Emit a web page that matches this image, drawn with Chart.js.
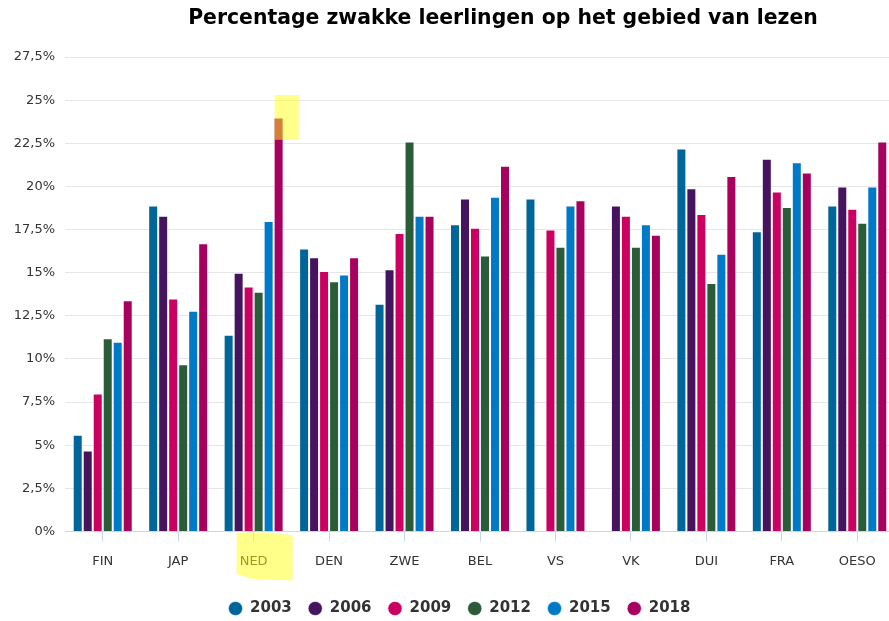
<!DOCTYPE html>
<html lang="nl">
<head>
<meta charset="UTF-8">
<title>Percentage zwakke leerlingen</title>
<script src="https://cdn.jsdelivr.net/npm/chart.js"></script>
<style>
  body {
    margin: 0;
    background: #ffffff;
    overflow: hidden;
  }
  #wrap {
    position: relative;
    width: 889px;
    height: 621px;
    overflow: hidden;
  }
  #titel {
    position: absolute;
    top: 5px;
    left: 0;
    width: 1006px;
    text-align: center;
    font: bold 20.4px 'DejaVu Sans', Verdana, sans-serif;
    line-height: 24px;
    color: #000000;
    z-index: 2;
  }
  canvas {
    position: absolute;
    top: 0;
    left: 0;
  }
</style>
</head>
<body>
<div id="wrap">
  <div id="titel">Percentage zwakke leerlingen op het gebied van lezen</div>
  <canvas id="chart" width="900" height="626"></canvas>
</div>
<script>
// landen (categorieen)
const landen = ['FIN', 'JAP', 'NED', 'DEN', 'ZWE', 'BEL', 'VS', 'VK', 'DUI', 'FRA', 'OESO'];

// percentages per PISA-jaar
const jaar2003 = [5.6, 18.9, 11.4, 16.4, 13.2, 17.8, 19.3, null, 22.2, 17.4, 18.9];
const jaar2006 = [4.7, 18.3, 15.0, 15.9, 15.2, 19.3, null, 18.9, 19.9, 21.6, 20.0];
const jaar2009 = [8.0, 13.5, 14.2, 15.1, 17.3, 17.6, 17.5, 18.3, 18.4, 19.7, 18.7];
const jaar2012 = [11.2, 9.7, 13.9, 14.5, 22.6, 16.0, 16.5, 16.5, 14.4, 18.8, 17.9];
const jaar2015 = [11.0, 12.8, 18.0, 14.9, 18.3, 19.4, 18.9, 17.8, 16.1, 21.4, 20.0];
const jaar2018 = [13.4, 16.7, 24.0, 15.9, 18.3, 21.2, 19.2, 17.2, 20.6, 20.8, 22.6];

const jaren = ['2003', '2006', '2009', '2012', '2015', '2018'];
const kleuren = ['#00669a', '#46145f', '#cc0060', '#2a5c39', '#0079c9', '#a8005f'];
const reeksen = [jaar2003, jaar2006, jaar2009, jaar2012, jaar2015, jaar2018];

const FONT = "'DejaVu Sans', Verdana, sans-serif";

// legenda iets naar rechts, zoals in het origineel
const legendaPlugin = {
  id: 'legendaSchuif',
  afterLayout(chart) {
    if (chart.legend) {
      chart.legend.left += 8;
      chart.legend.right += 8;
    }
  }
};

// gele markering zoals in het origineel (NED)
const markeerPlugin = {
  id: 'markeer',
  afterDraw(chart) {
    const ctx = chart.ctx;
    const x = chart.scales.x;
    const y = chart.scales.y;
    const bar = chart.getDatasetMeta(5).data[2];
    const links = bar.x - bar.width / 2 + 1;
    ctx.save();
    ctx.fillStyle = 'rgba(255, 255, 20, 0.5)';
    ctx.fillRect(links, y.getPixelForValue(25.3), 24, y.getPixelForValue(22.7) - y.getPixelForValue(25.3));
    const cx = x.getPixelForValue(2);
    const b = y.bottom;
    ctx.beginPath();
    ctx.moveTo(cx - 17, b + 1);
    ctx.lineTo(cx + 16, b + 1);
    ctx.lineTo(cx + 39, b + 4);
    ctx.lineTo(cx + 39, b + 49);
    ctx.lineTo(cx - 4, b + 47);
    ctx.lineTo(cx - 17, b + 42);
    ctx.closePath();
    ctx.fill();
    ctx.restore();
  }
};

const ctx = document.getElementById('chart').getContext('2d');

new Chart(ctx, {
  type: 'bar',
  data: {
    labels: landen,
    datasets: jaren.map((jaar, i) => ({
      label: jaar,
      data: reeksen[i],
      backgroundColor: kleuren[i],
      borderColor: 'rgba(255,255,255,0.55)',
      borderWidth: 1,
      categoryPercentage: 0.795,
      barPercentage: 1.0
    }))
  },
  options: {
    responsive: false,
    animation: false,
    layout: {
      padding: { top: 57, left: 8, right: 5, bottom: 0 }
    },
    scales: {
      x: {
        grid: {
          offset: false,
          drawOnChartArea: false,
          drawTicks: true,
          tickLength: 10,
          color: '#ccd6eb'
        },
        border: { display: true, color: '#ccd6eb' },
        ticks: {
          padding: 12,
          color: '#333333',
          font: { family: FONT, size: 13 }
        },
        afterFit(scale) {
          scale.height = 53;
        }
      },
      y: {
        min: 0,
        max: 27.5,
        grid: {
          color: '#e6e6e6',
          drawTicks: false
        },
        border: { display: false },
        ticks: {
          stepSize: 2.5,
          padding: 10,
          color: '#333333',
          font: { family: FONT, size: 13 },
          callback: (v) => String(v).replace('.', ',') + '%'
        },
        afterFit(scale) {
          scale.width = 57;
        }
      }
    },
    plugins: {
      legend: {
        position: 'bottom',
        labels: {
          usePointStyle: true,
          pointStyle: 'circle',
          boxWidth: 14,
          boxHeight: 10,
          padding: 16.5,
          color: '#333333',
          font: { family: FONT, size: 15, weight: 'bold' }
        }
      },
      tooltip: { enabled: false }
    }
  },
  plugins: [legendaPlugin, markeerPlugin]
});
</script>
</body>
</html>
